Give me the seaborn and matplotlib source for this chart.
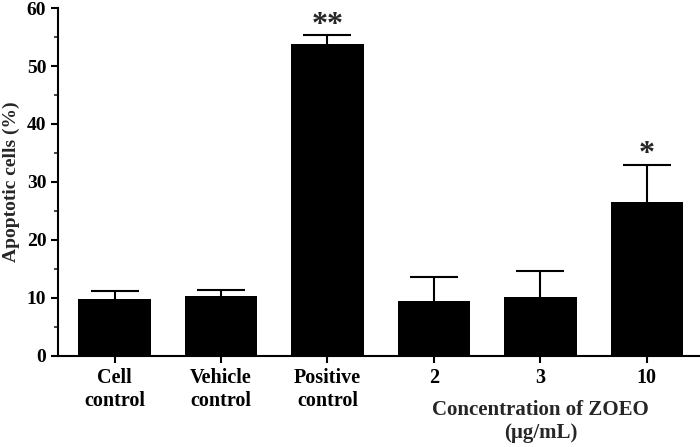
import seaborn as sns
import matplotlib.pyplot as plt
import pandas as pd
from matplotlib.ticker import MultipleLocator

# Values
groups = ["Cell\ncontrol", "Vehicle\ncontrol", "Positive\ncontrol", "2", "3", "10"]
means = [9.8, 10.3, 53.8, 9.5, 10.1, 26.6]
upper_err = [1.3, 1.0, 1.5, 4.1, 4.6, 6.4]
stars = ["", "", "**", "", "", "*"]

df = pd.DataFrame({"group": groups, "mean": means})

sns.set_style("ticks")
plt.rcParams['font.family'] = ['Liberation Serif', 'DejaVu Serif']
plt.rcParams['font.weight'] = 'bold'

fig = plt.figure(figsize=(7, 4.47), dpi=100)
ax = fig.add_axes([0.083, 0.204, 0.917, 0.778])

sns.barplot(data=df, x="group", y="mean", color="black", width=0.68,
            saturation=1, edgecolor="black", linewidth=0, ax=ax, zorder=2)
eb = ax.errorbar(range(len(groups)), means, yerr=[[0] * len(groups), upper_err],
                 fmt="none", ecolor="black", elinewidth=1.5, capsize=17,
                 capthick=1.5, zorder=1)
# hide the lower caps (sitting on the bar tops)
eb[1][0].set_visible(False)

for i, s in enumerate(stars):
    if s:
        ax.text(i, means[i] + upper_err[i] - 0.8, s, ha="center", va="bottom",
                fontsize=23, fontweight="bold")

ax.set_xlim(-0.53, 5.5)
ax.set_ylim(0, 60)
ax.yaxis.set_major_locator(MultipleLocator(10))
ax.yaxis.set_minor_locator(MultipleLocator(5))
ax.tick_params(axis="both", which="major", direction="out", length=5,
               width=1.5, labelsize=14, colors="black")
ax.tick_params(axis="y", which="minor", direction="out", length=3, width=1.2)
for lab in ax.get_xticklabels() + ax.get_yticklabels():
    lab.set_fontweight("bold")
for lab in ax.get_xticklabels():
    lab.set_linespacing(1.25)
    lab.set_fontsize(14.5)

sns.despine(ax=ax)
for sp in ["left", "bottom"]:
    ax.spines[sp].set_linewidth(1.5)
    ax.spines[sp].set_color("black")

ax.set_xlabel("")
ax.set_ylabel("Apoptotic cells (%)", fontsize=14, fontweight="bold")
ax.yaxis.set_label_coords(-0.059, 0.5)
ax.text(4, -0.19, "Concentration of ZOEO\n(µg/mL)", transform=ax.get_xaxis_transform(),
        ha="center", va="center", fontsize=15, fontweight="bold", linespacing=1.2)

fig.savefig("out.png", dpi=100)
